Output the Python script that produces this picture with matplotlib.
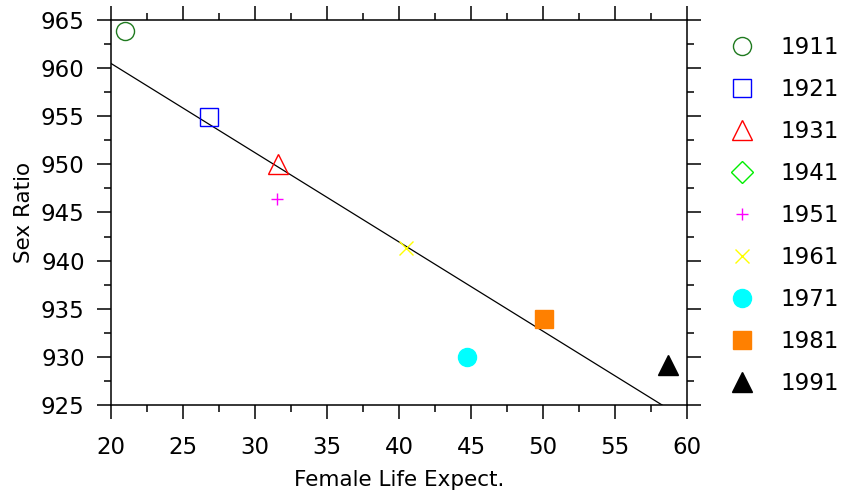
import numpy as np
import matplotlib
matplotlib.use("Agg")
import matplotlib.pyplot as plt
from matplotlib.ticker import MultipleLocator

years = ["1911", "1921", "1931", "1941", "1951", "1961", "1971", "1981", "1991"]
life_expect = [21.0, 26.8, 31.6, np.nan, 31.5, 40.5, 44.7, 50.1, 58.7]
sex_ratio = [963.8, 954.9, 950.0, np.nan, 946.4, 941.3, 930.0, 933.9, 929.2]

markers = ["o", "s", "^", "D", "+", "x", "o", "s", "^"]
colors = ["#1f7a1f", "#0000ff", "#ff0000", "#00ee00", "#ff00ff", "#ffff00",
          "#00ffff", "#ff8000", "#000000"]
filled = [False, False, False, False, False, False, True, True, True]
sizes = [13, 13, 14, 11, 8, 10, 13, 13, 14]

plt.rcParams['font.family'] = ['DejaVu Sans']
fig = plt.figure(figsize=(8.45, 4.98), dpi=100)
ax = fig.add_axes([0.1314, 0.1867, 0.8130 - 0.1314, 0.96 - 0.1867])

for yr, x, y, m, c, f, s in zip(years, life_expect, sex_ratio, markers, colors, filled, sizes):
    if f:
        ax.plot([x], [y], linestyle='none', marker=m, markersize=s,
                markerfacecolor=c, markeredgecolor=c, markeredgewidth=1.0, label=yr)
    else:
        ax.plot([x], [y], linestyle='none', marker=m, markersize=s,
                markerfacecolor='none', markeredgecolor=c, markeredgewidth=1.0, label=yr)

# regression line
xv = np.array([v for v in life_expect if not np.isnan(v)])
yv = np.array([v for v in sex_ratio if not np.isnan(v)])
slope, intercept = np.polyfit(xv, yv, 1)
xl = np.array([20, 60])
ax.plot(xl, slope * xl + intercept, color='black', linewidth=0.9, zorder=1)

ax.set_xlim(20, 60)
ax.set_ylim(925, 965)
ax.xaxis.set_major_locator(MultipleLocator(5))
ax.xaxis.set_minor_locator(MultipleLocator(2.5))
ax.yaxis.set_major_locator(MultipleLocator(5))
ax.yaxis.set_minor_locator(MultipleLocator(2.5))

ax.tick_params(which='both', direction='out', top=True, right=True,
               labeltop=False, labelright=False, width=1.1, color='black')
ax.tick_params(which='major', length=10, labelsize=16.5)
ax.tick_params(which='minor', length=5)
ax.tick_params(axis='x', which='major', pad=12)
ax.tick_params(axis='y', which='major', pad=9)
for sp in ax.spines.values():
    sp.set_linewidth(1.1)

ax.set_xlabel("Female Life Expect.", fontsize=15.5, labelpad=8)
ax.set_ylabel("Sex Ratio", fontsize=15.5, labelpad=5)

leg = ax.legend(loc='upper left', bbox_to_anchor=(1.059, 0.982), frameon=False,
                fontsize=16.5, labelspacing=0.83, handlelength=1.0,
                handletextpad=1.2, borderaxespad=0, numpoints=1)

fig.savefig("out.png", dpi=100)
